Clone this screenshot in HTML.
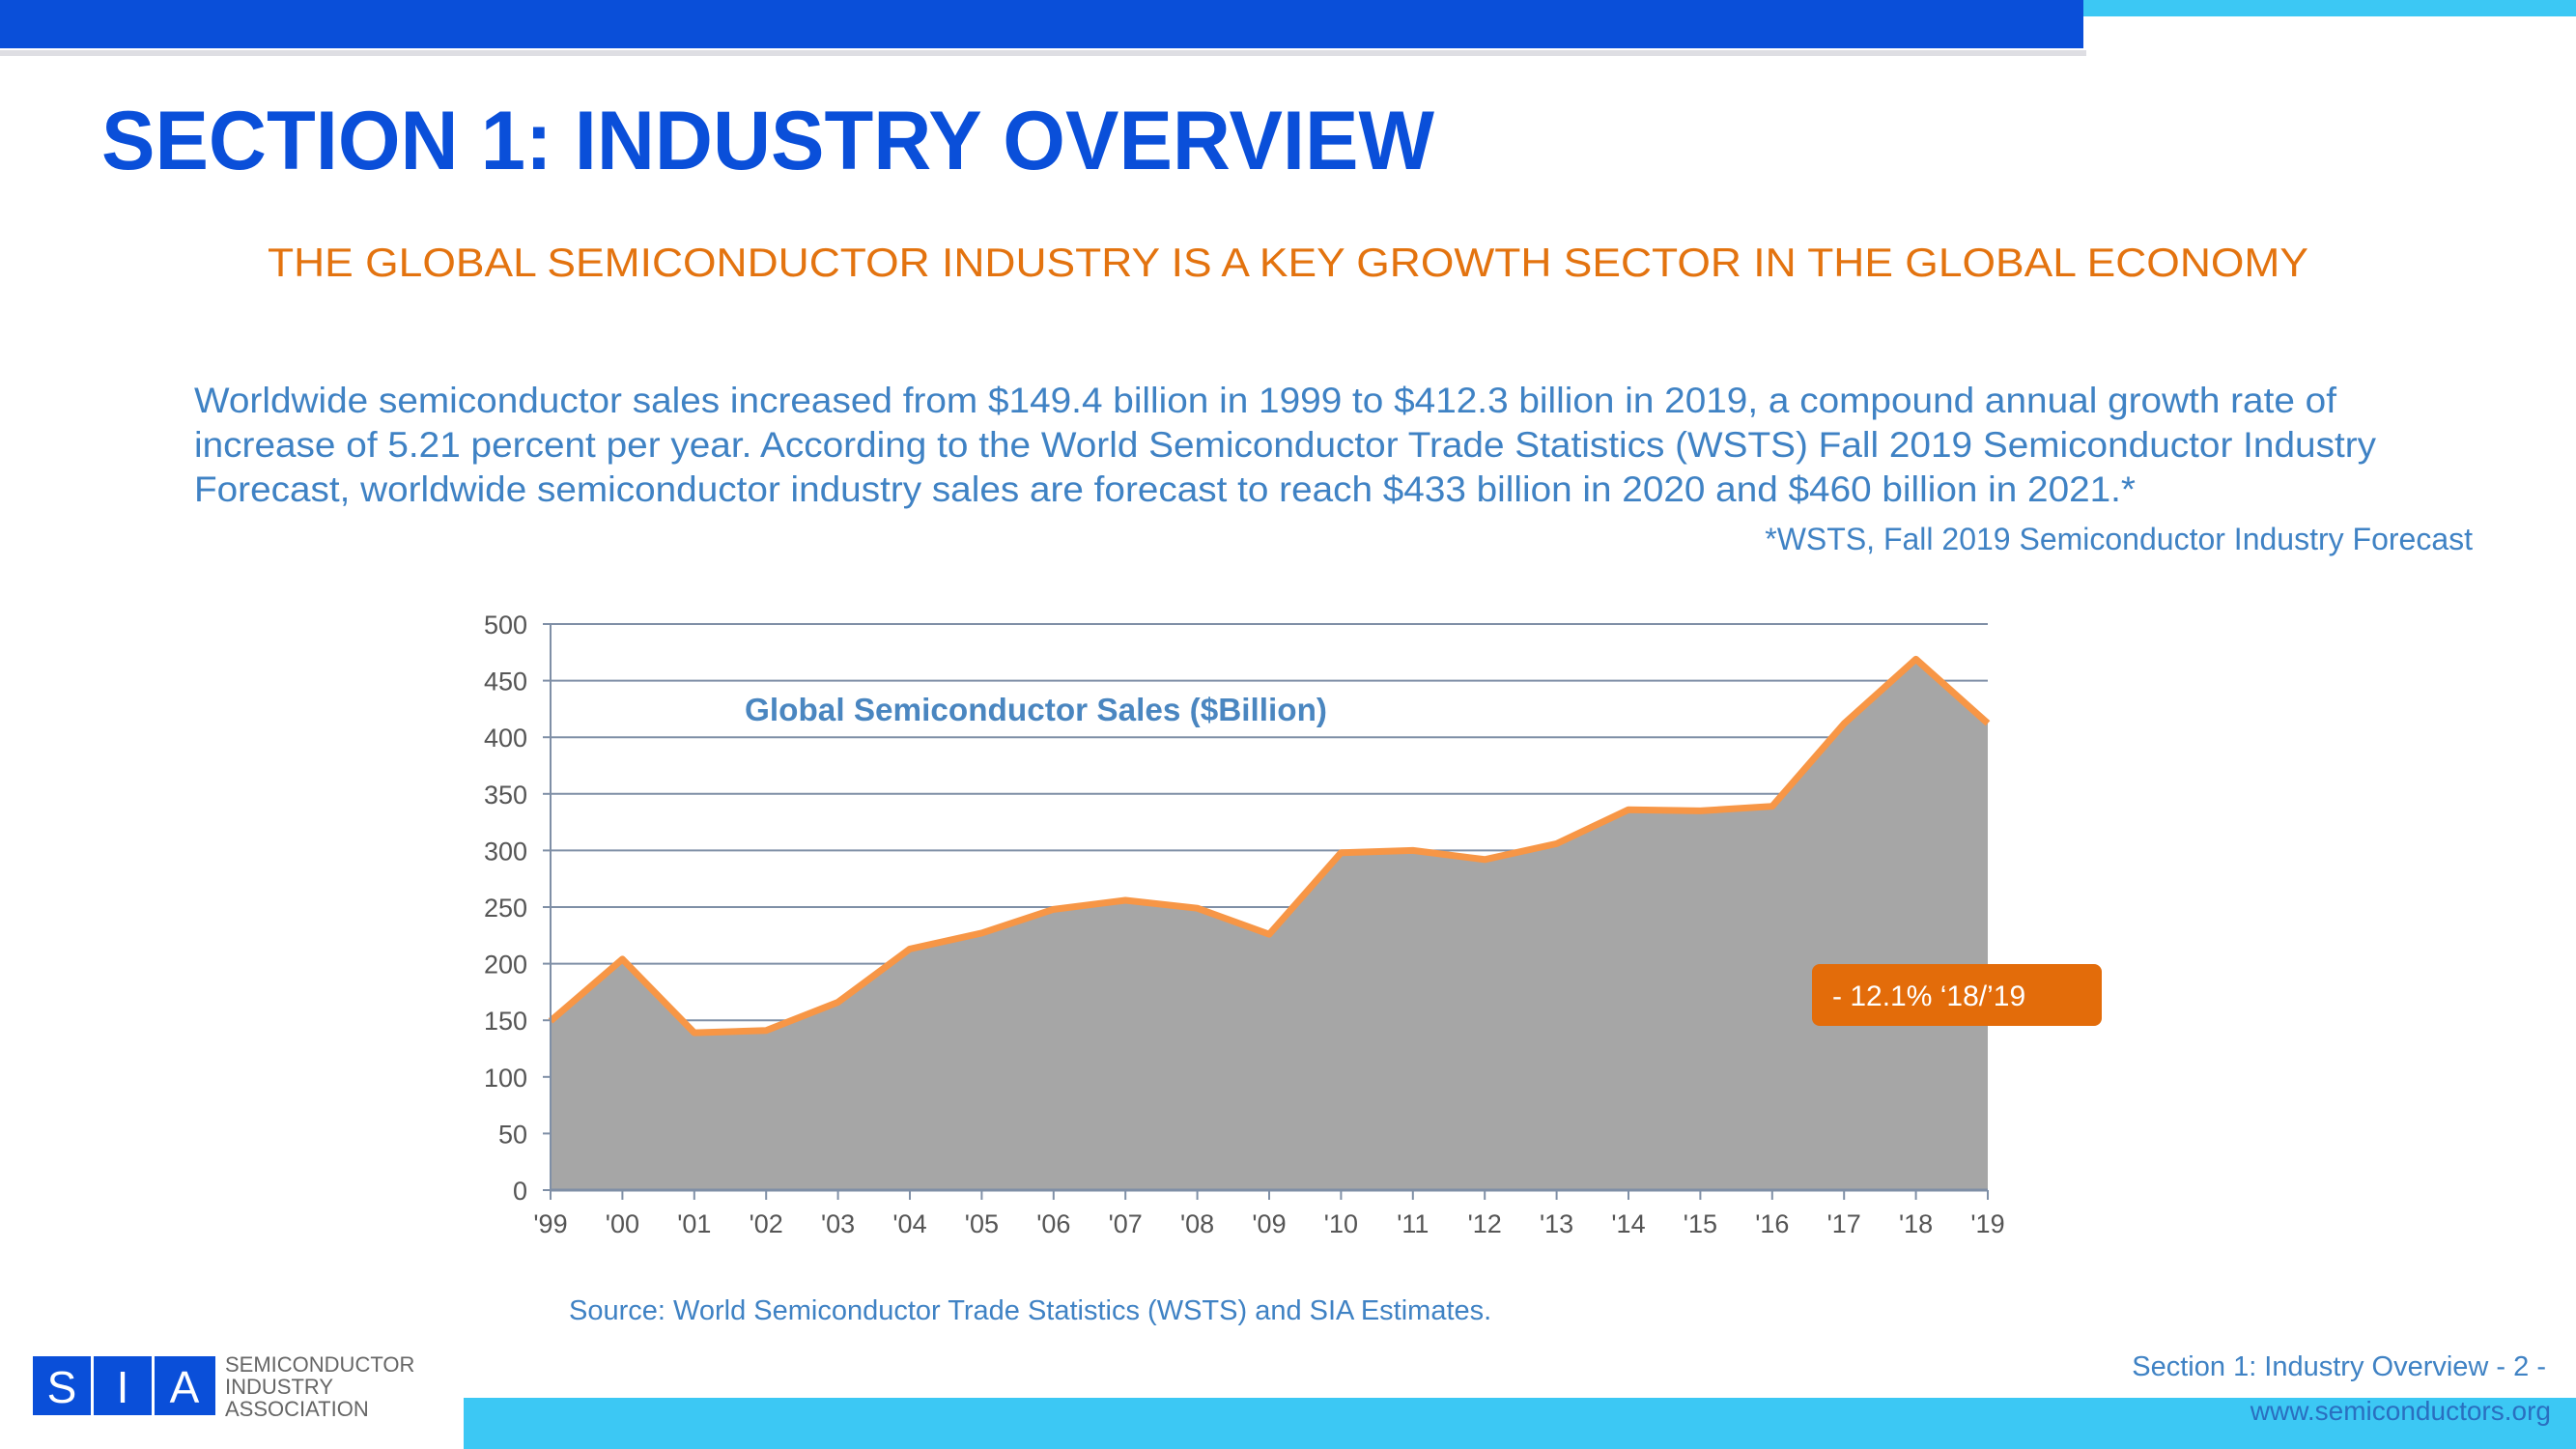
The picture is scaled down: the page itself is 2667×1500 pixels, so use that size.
<!DOCTYPE html>
<html><head><meta charset="utf-8"><style>
html,body{margin:0;padding:0;background:#fff;}
svg{display:block;font-family:"Liberation Sans",sans-serif;}
</style></head><body>
<svg id="s" width="2667" height="1500" viewBox="0 0 2667 1500">
<rect x="0" y="0" width="2667" height="1500" fill="#ffffff"/>
<rect x="0" y="52" width="2160" height="6" fill="#c8c8d0" opacity="0.6"/>
<rect x="0" y="0" width="2157" height="50" fill="#0a4fd9"/>
<rect x="2157" y="0" width="510" height="17" fill="#3cc8f4"/>
<text x="105" y="175" font-size="86" font-weight="bold" fill="#0a4fd9" textLength="1380" lengthAdjust="spacingAndGlyphs">SECTION 1: INDUSTRY OVERVIEW</text>
<text x="277" y="286" font-size="42" fill="#e3730f" textLength="2113" lengthAdjust="spacingAndGlyphs">THE GLOBAL SEMICONDUCTOR INDUSTRY IS A KEY GROWTH SECTOR IN THE GLOBAL ECONOMY</text>
<g fill="#3f82c4" font-size="37">
<text x="201" y="427" textLength="2218" lengthAdjust="spacingAndGlyphs">Worldwide semiconductor sales increased from $149.4 billion in 1999 to $412.3 billion in 2019, a compound annual growth rate of</text>
<text x="201" y="473" textLength="2259" lengthAdjust="spacingAndGlyphs">increase of 5.21 percent per year. According to the World Semiconductor Trade Statistics (WSTS) Fall 2019 Semiconductor Industry</text>
<text x="201" y="519" textLength="2010" lengthAdjust="spacingAndGlyphs">Forecast, worldwide semiconductor industry sales are forecast to reach $433 billion in 2020 and $460 billion in 2021.*</text>
</g>
<text x="2560" y="569" font-size="32" fill="#3f82c4" text-anchor="end">*WSTS, Fall 2019 Semiconductor Industry Forecast</text>
<g id="chart"></g>
<text x="589" y="1366" font-size="29" fill="#3f82c4">Source: World Semiconductor Trade Statistics (WSTS) and SIA Estimates.</text>
<rect x="480" y="1447" width="2187" height="53" fill="#3cc8f4"/>
<text x="2636" y="1424" font-size="29" fill="#3f82c4" text-anchor="end">Section 1: Industry Overview - 2 -</text>
<text x="2641" y="1470" font-size="28" fill="#2a6fc0" text-anchor="end">www.semiconductors.org</text>
<g>
<rect x="34" y="1404" width="60" height="61" fill="#0a4fd9"/>
<rect x="97" y="1404" width="60" height="61" fill="#0a4fd9"/>
<rect x="160" y="1404" width="63" height="61" fill="#0a4fd9"/>
<text x="64" y="1452" font-size="46" fill="#fff" text-anchor="middle">S</text>
<text x="127" y="1452" font-size="46" fill="#fff" text-anchor="middle">I</text>
<text x="191" y="1452" font-size="46" fill="#fff" text-anchor="middle">A</text>
<text x="233" y="1420" font-size="22" fill="#666">SEMICONDUCTOR</text>
<text x="233" y="1443" font-size="22" fill="#666">INDUSTRY</text>
<text x="233" y="1466" font-size="22" fill="#666">ASSOCIATION</text>
</g>
</svg>
<script>
const categories=["'99","'00","'01","'02","'03","'04","'05","'06","'07","'08","'09","'10","'11","'12","'13","'14","'15","'16","'17","'18","'19"];
const sales=[149.4,204,139,141,166,213,227,248,256,249,226,298,300,292,306,336,335,339,412,469,412.3];
const yTicks=[0,50,100,150,200,250,300,350,400,450,500];
const calloutLabel="- 12.1% \u201818/\u201919";
const NS="http://www.w3.org/2000/svg";
const g=document.getElementById('chart');
const X0=570,X1=2058,Y0=1232,Y1=646,YMAX=500;
function xs(i){return X0+(X1-X0)*i/(categories.length-1);}
function ys(v){return Y0-(Y0-Y1)*v/YMAX;}
function mk(t,a,p){const e=document.createElementNS(NS,t);for(const k in a)e.setAttribute(k,a[k]);(p||g).appendChild(e);return e;}
yTicks.forEach(v=>{
  if(v>0){const l=mk('line',{x1:X0,x2:X1,y1:ys(v),y2:ys(v),stroke:'#7f8fa6','stroke-width':2});
  
  }
  const tk=mk('line',{x1:X0-8,x2:X0,y1:ys(v),y2:ys(v),stroke:'#7f8fa6','stroke-width':2});
  
  
  const t=mk('text',{x:546,y:ys(v)+10,'font-size':27,fill:'#555','text-anchor':'end'});
  t.textContent=v;
  
  
});
let d='M'+xs(0)+','+ys(0);
sales.forEach((v,i)=>{d+=' L'+xs(i)+','+ys(v);});
d+=' L'+xs(sales.length-1)+','+ys(0)+' Z';
const area=mk('path',{d:d,fill:'#a6a6a6'});


const line=mk('polyline',{points:sales.map((v,i)=>xs(i)+','+ys(v)).join(' '),fill:'none',stroke:'#f79646','stroke-width':7,'stroke-linejoin':'round'});


const ax=mk('line',{x1:X0,x2:X0,y1:Y1,y2:Y0,stroke:'#7f8fa6','stroke-width':2});


const bx=mk('line',{x1:X0,x2:X1,y1:Y0,y2:Y0,stroke:'#7f8fa6','stroke-width':3});


categories.forEach((c,i)=>{
  const tk=mk('line',{x1:xs(i),x2:xs(i),y1:Y0,y2:Y0+10,stroke:'#7f8fa6','stroke-width':2});
  
  
  const t=mk('text',{x:xs(i),y:1276,'font-size':27,fill:'#555','text-anchor':'middle'});
  t.textContent=c;
  
  
});
const ct=mk('text',{x:771,y:746,'font-size':33,'font-weight':'bold',fill:'#4a86c0',textLength:603,lengthAdjust:'spacingAndGlyphs'});
ct.textContent='Global Semiconductor Sales ($Billion)';


const cb=mk('rect',{x:1876,y:998,width:300,height:64,rx:8,fill:'#e36c0a'});


const cl=mk('text',{x:1897,y:1041,'font-size':30,fill:'#fff'});
cl.textContent=calloutLabel;


</script>
</body></html>
